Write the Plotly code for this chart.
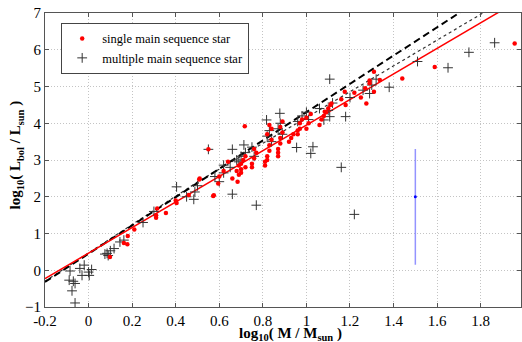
import plotly.graph_objects as go

# ---- data (log10 M/Msun, log10 Lbol/Lsun) ----
single_logm = [0.098,0.162,0.178,0.18,0.21,0.31,0.31,0.315,0.355,0.40,0.404,0.46,0.508,0.51,0.55,0.572,0.575,0.595,0.60,0.62,
               0.64,0.66,0.68,0.684,0.69,0.69,0.70,0.70,0.70,0.71,0.717,0.72,0.72,0.75,0.75,0.76,0.76,0.77,0.81,0.81,
               0.82,0.82,0.82,0.83,0.83,0.83,0.84,0.84,0.87,0.87,0.87,0.88,0.88,0.88,0.89,0.89,0.92,0.93,0.94,0.96,
               0.96,0.97,0.97,0.98,1.00,1.00,1.01,1.02,1.06,1.07,1.08,1.084,1.09,1.10,1.11,1.115,1.16,1.176,1.18,1.22,
               1.25,1.27,1.275,1.29,1.29,1.31,1.31,1.337,1.44,1.589,1.956]
single_logl = [0.36,0.74,0.71,0.93,1.11,1.43,1.50,1.68,1.56,1.90,1.83,2.05,2.47,2.50,3.29,2.02,2.04,2.36,2.55,2.70,
               2.95,2.50,2.70,2.41,2.60,2.85,2.65,2.75,2.90,3.00,3.92,2.80,3.10,2.80,2.90,3.05,3.30,3.20,2.85,2.95,
               3.00,3.10,3.70,3.25,3.40,3.95,3.55,3.85,3.10,3.20,3.30,3.45,3.60,3.90,3.75,4.05,3.50,3.60,3.70,3.70,
               3.80,3.85,4.00,4.10,3.85,4.15,4.00,4.25,3.95,4.10,4.20,4.31,4.30,4.40,4.50,4.54,4.65,4.86,4.50,4.83,
               4.70,4.95,4.54,5.09,5.16,4.86,5.40,5.18,5.22,5.53,6.17]

multi_logm = [-0.089,-0.085,-0.076,-0.07,-0.062,-0.062,-0.04,-0.03,-0.02,0.0,0.003,0.014,0.075,0.085,0.09,0.10,0.117,0.144,0.162,0.25,
              0.30,0.404,0.45,0.483,0.488,0.50,0.55,0.58,0.60,0.62,0.62,0.65,0.66,0.66,0.68,0.69,0.70,0.713,0.72,0.75,
              0.76,0.77,0.817,0.82,0.83,0.84,0.87,0.878,0.88,0.89,0.955,0.96,0.98,1.00,1.01,1.02,1.03,1.06,1.08,1.10,
              1.107,1.107,1.12,1.16,1.18,1.20,1.22,1.26,1.29,1.30,1.32,1.38,1.51,1.65,1.746,1.864]
multi_logl = [-0.27,-0.02,-0.56,-0.30,-0.36,-0.89,0.05,-0.14,0.14,-0.05,-0.14,0.02,0.44,0.46,0.40,0.53,0.59,0.77,0.82,1.30,
              1.60,2.27,2.00,1.93,2.13,2.30,3.29,2.55,2.41,2.65,2.86,2.80,2.07,3.29,3.00,2.95,3.10,3.41,3.20,3.35,
              3.10,1.77,4.09,3.65,3.80,3.50,3.85,4.27,4.00,3.70,3.34,4.05,4.20,4.30,4.10,3.18,3.36,4.40,4.09,4.35,
              4.18,5.20,4.55,2.80,4.18,4.70,1.52,4.90,4.81,5.04,5.20,4.98,5.68,5.51,5.93,6.19]

# fitted relations (endpoints / knots)
fit_red_x = [-0.2, 1.98]
fit_red_y = [-0.23, 7.36]
fit_dash_x = [-0.2, 1.75]
fit_dash_y = [-0.32, 7.19]
fit_dot_x = [-0.2, 0.5, 1.85]
fit_dot_y = [-0.30, 2.40, 7.14]

# typical error bar
err_x = [1.5]
err_y = [2.0]
err_plus = [1.3]
err_minus = [1.85]

x_ticks = [-0.2, 0, 0.2, 0.4, 0.6, 0.8, 1, 1.2, 1.4, 1.6, 1.8]
x_ticklabels = ["-0.2", "0", "0.2", "0.4", "0.6", "0.8", "1", "1.2", "1.4", "1.6", "1.8"]
y_ticks = [-1, 0, 1, 2, 3, 4, 5, 6, 7]

SERIF = "Liberation Serif"

fig = go.Figure()

fig.add_trace(go.Scatter(x=fit_dot_x, y=fit_dot_y, mode="lines", showlegend=False,
                         line=dict(color="#333333", width=1.2, dash="dot")))
fig.add_trace(go.Scatter(x=fit_dash_x, y=fit_dash_y, mode="lines", showlegend=False,
                         line=dict(color="black", width=2, dash="7px,4px")))
fig.add_trace(go.Scatter(x=fit_red_x, y=fit_red_y, mode="lines", showlegend=False,
                         line=dict(color="red", width=1.5)))

fig.add_trace(go.Scatter(x=multi_logm, y=multi_logl, mode="markers",
                         name="multiple main sequence star",
                         marker=dict(symbol="cross-thin", size=7,
                                     line=dict(color="#333333", width=1))))
fig.add_trace(go.Scatter(x=single_logm, y=single_logl, mode="markers",
                         name="single main sequence star",
                         marker=dict(symbol="circle", size=4.5, color="red")))

fig.add_trace(go.Scatter(x=err_x, y=err_y, mode="markers", showlegend=False,
                         marker=dict(symbol="circle", size=3, color="blue"),
                         error_y=dict(type="data", symmetric=False, array=err_plus,
                                      arrayminus=err_minus, width=0,
                                      color="rgba(120,120,255,0.8)", thickness=1.5)))

axis_common = dict(showline=True, linecolor="#555555", linewidth=1, mirror="ticks",
                   ticks="inside", ticklen=4, tickcolor="#555555", automargin=False,
                   showgrid=True, gridcolor="#c4c4c4", griddash="1px,2px", gridwidth=1,
                   zeroline=False, tickfont=dict(family=SERIF, size=15, color="black"))

fig.update_xaxes(range=[-0.2, 1.985], tickvals=x_ticks, ticktext=x_ticklabels, **axis_common)
fig.update_yaxes(range=[-1, 7], tickvals=y_ticks, **axis_common)

fig.add_annotation(text="<b>log<sub>10</sub>( M / M<sub>sun</sub> )</b>",
                   xref="paper", yref="paper", x=0.515, y=0, xanchor="center", yanchor="top",
                   yshift=-16, showarrow=False,
                   font=dict(family=SERIF, size=15, color="black"))
fig.add_annotation(text="<b>log<sub>10</sub>( L<sub>bol</sub> / L<sub>sun</sub> )</b>",
                   xref="paper", yref="paper", x=-0.06, y=0.517, xanchor="center", yanchor="middle",
                   textangle=-90, showarrow=False,
                   font=dict(family=SERIF, size=15, color="black"))

fig.update_layout(
    width=522, height=342,
    margin=dict(l=45, r=1, t=13, b=35, autoexpand=False),
    paper_bgcolor="white", plot_bgcolor="white",
    legend=dict(x=0.034, y=0.966, xanchor="left", yanchor="top",
                bgcolor="white", bordercolor="#444444", borderwidth=1,
                font=dict(family=SERIF, size=12.5, color="black"),
                traceorder="reversed", itemsizing="trace", itemwidth=30),
)

fig.write_html("out.html", config={"displayModeBar": False},
               post_script="document.body.style.margin='0';")
